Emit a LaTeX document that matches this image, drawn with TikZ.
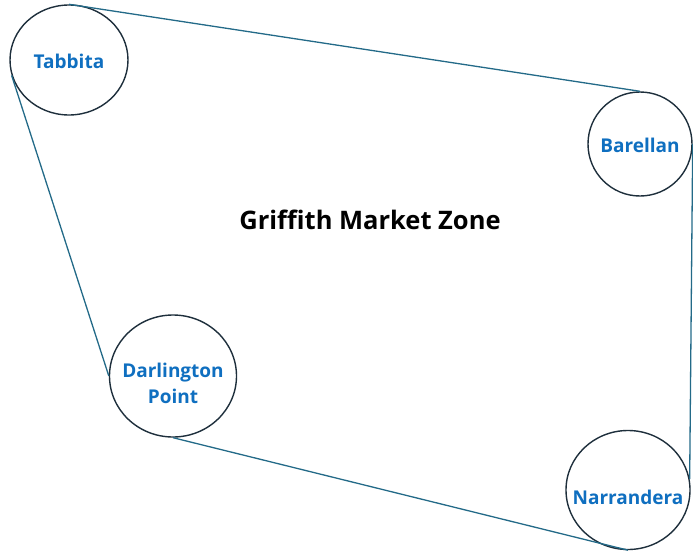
\documentclass[tikz,border=0pt]{standalone}
\usepackage{fontspec}
\setmainfont{Open Sans}
\usetikzlibrary{shapes.geometric}

\definecolor{townblue}{HTML}{0F6FC0}
\definecolor{rimdark}{HTML}{1E2F3C}
\definecolor{linkteal}{HTML}{236A88}

\begin{document}
\begin{tikzpicture}[
    x=1pt, y=-1pt,
    town/.style 2 args={
      ellipse, draw=rimdark, line width=1.4pt, fill=white, inner sep=0pt,
      label={[townname, yshift=#2]center:#1},
    },
    townname/.style={
      text=townblue, font=\fontsize{19}{26}\selectfont\bfseries,
      align=center, inner sep=0pt,
    },
    link/.style={draw=linkteal, line width=1.3pt},
  ]
  \useasboundingbox (0,0) rectangle (693,551);
  \node[town={Tabbita}{-1pt}, minimum width=118pt, minimum height=110pt] (tabbita) at (69,60) {};
  \node[town={Barellan}{-1pt}, minimum width=104pt, minimum height=104pt] (barellan) at (640,144) {};
  \node[town={Darlington\\Point}{-7pt}, minimum width=127pt, minimum height=122pt] (darlington) at (173,376) {};
  \node[town={Narrandera}{-7pt}, minimum width=124pt, minimum height=119pt] (narrandera) at (628,490) {};
  \node[font=\fontsize{25.5}{30}\selectfont\bfseries] (zone) at (370,220) {Griffith Market Zone};
  \path[link] (tabbita.north) -- (barellan.north);
  \path[link] (barellan.east) -- (narrandera.10);
  \path[link] (narrandera.south) -- (darlington.south);
  \path[link] (darlington.west) -- (tabbita.195);
\end{tikzpicture}
\end{document}
